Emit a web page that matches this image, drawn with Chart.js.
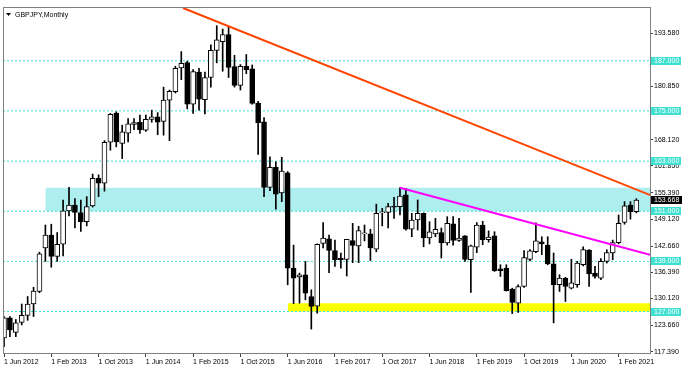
<!DOCTYPE html>
<html><head><meta charset="utf-8">
<script src="https://cdn.jsdelivr.net/npm/chart.js@4.4.1/dist/chart.umd.min.js"></script>
<style>html,body{margin:0;padding:0;background:#fff;overflow:hidden}</style>
</head><body>
<canvas id="c" width="691" height="368"></canvas>
<script>
// ---- data (monthly GBPJPY, Jun 2012 .. May 2021) ----
const open  = [120.7,125.5,122.0,124.4,126.1,128.8,131.8,142.2,145.3,140.2,143.1,151.1,152.5,150.7,148.5,152.3,158.9,157.7,167.5,174.5,167.2,169.7,171.8,172.3,170.4,173.0,173.6,172.5,177.6,179.6,185.3,186.6,176.6,184.3,177.7,183.0,189.5,191.6,193.3,185.6,181.1,185.7,185.1,176.9,172.4,156.7,161.5,155.4,160.2,137.4,135.3,135.8,130.6,128.3,143.3,144.4,141.6,139.8,139.5,144.0,142.7,145.6,145.6,141.9,150.6,150.7,152.1,152.1,154.9,146.7,148.9,150.5,144.6,145.6,145.9,143.4,148.0,144.0,145.1,139.4,142.4,147.7,144.2,145.1,137.2,137.4,132.4,129.0,133.0,139.5,141.3,143.7,142.9,138.4,133.4,135.0,132.6,133.4,138.2,141.7,136.2,135.0,139.0,141.0,143.5,148.3,152.5,150.9];
const high  = [125.8,125.8,125.1,128.8,130.6,132.8,141.2,147.7,147.9,145.9,153.7,156.7,154.0,153.7,154.5,159.9,159.7,167.9,174.4,174.8,171.6,173.2,173.2,174.0,174.0,175.2,174.6,180.7,180.0,185.7,189.2,186.9,184.9,185.2,184.3,190.8,195.4,194.6,195.2,188.3,186.1,188.5,186.0,177.3,173.4,164.0,162.8,163.9,160.5,142.9,136.2,139.0,132.2,143.2,148.3,145.3,144.1,141.0,144.3,148.1,147.4,147.7,146.7,152.7,151.7,152.9,154.3,156.6,156.5,150.5,153.7,150.6,148.5,149.3,147.0,149.7,149.7,149.3,145.2,142.9,148.3,148.6,146.3,146.1,138.2,138.2,132.6,133.4,141.6,141.8,148.2,144.9,144.9,141.0,135.8,135.2,139.5,139.0,142.5,141.8,137.8,139.7,141.8,144.1,150.1,153.3,153.3,154.0];
const low   = [118.6,121.0,121.0,123.8,124.9,125.8,131.5,139.0,137.6,139.0,140.3,149.9,147.0,146.2,147.5,152.0,154.5,155.8,165.6,166.4,163.6,167.6,170.5,169.6,170.1,172.3,169.3,169.2,167.9,179.3,182.5,175.5,174.4,175.2,174.3,180.7,186.5,184.5,183.0,180.7,180.0,183.9,176.6,164.6,154.5,155.9,151.5,153.3,133.4,128.9,129.0,129.8,122.8,126.6,142.2,136.3,137.8,137.4,135.5,138.7,138.7,143.9,139.2,141.3,147.5,147.0,149.3,150.1,146.5,144.9,146.5,142.5,143.2,144.9,139.8,142.9,142.9,143.8,139.0,131.6,141.1,143.0,143.6,136.6,135.4,131.9,126.5,126.8,132.8,139.1,141.1,140.6,138.2,124.3,131.8,129.4,132.4,132.8,137.9,133.0,135.0,134.6,138.6,139.4,143.2,147.9,149.1,150.6];
const close = [125.5,122.6,124.3,126.1,128.8,131.9,140.8,145.3,140.2,143.1,151.1,152.5,150.7,148.5,152.1,158.9,157.7,167.5,174.2,167.6,170.0,171.9,172.2,170.5,173.0,173.6,172.3,177.6,179.7,185.2,186.4,176.6,184.4,177.8,183.0,189.5,192.0,193.3,185.4,181.1,185.7,184.9,176.8,172.2,156.7,161.5,155.1,160.6,137.4,135.0,135.8,131.4,128.2,143.1,144.6,141.6,139.4,139.4,144.3,142.8,146.4,145.7,142.2,150.5,150.8,152.1,152.0,154.6,146.7,148.9,150.5,144.6,146.1,146.7,143.4,148.1,144.0,144.6,139.5,142.7,147.7,144.2,144.8,136.8,136.8,132.0,129.2,133.0,139.9,141.5,143.9,143.2,138.4,133.4,135.0,133.0,133.9,138.6,141.8,136.0,135.4,139.0,141.1,143.5,148.1,152.3,150.9,153.7];

const xTickPositions = [0,8,16,24,32,40,48,56,64,72,80,88,96,104];
const xTickLabels = ['1 Jun 2012','1 Feb 2013','1 Oct 2013','1 Jun 2014','1 Feb 2015','1 Oct 2015','1 Jun 2016','1 Feb 2017','1 Oct 2017','1 Jun 2018','1 Feb 2019','1 Oct 2019','1 Jun 2020','1 Feb 2021'];
const yTickValues = [117.39,123.66,130.12,136.39,142.66,149.12,155.39,161.85,168.12,174.39,180.85,187.12,193.58];
const levelValues = [187,175,163,151,139,127];
const currentPrice = 153.668;
const zoneStart = [7,48];
const zoneLow = [151,127];
const zoneHigh = [156.6,129];
const redLineX = [30.29,110];
const redLineY = [199.63,154.5];
const magentaLineX = [67,109.31];
const magentaLineY = [156.6,140.58];
const chartTitle = 'GBPJPY,Monthly';

// ---- view settings ----
const X_MIN = -0.17, X_MAX = 109.31, Y_MIN = 117.08, Y_MAX = 199.87;
const FONT = '"Liberation Sans", Arial, sans-serif';
const FS = 7;
const TURQ = '#40E0D0';

Chart.defaults.font.family = FONT;
Chart.defaults.font.size = FS;
Chart.defaults.color = '#000';

const idx = open.map((_, i) => i);
const bodies = idx.map(i => ({x: i, y: [open[i], close[i]]}));
const wicks = idx.map(i => ({x: i, y: [low[i], high[i]]}));
const bodyColors = idx.map(i => close[i] >= open[i] ? '#ffffff' : '#000000');

const datasets = [];
zoneStart.forEach((s, k) => {
  datasets.push({type:'line', data:[{x:s,y:zoneHigh[k]},{x:X_MAX,y:zoneHigh[k]}],
    borderWidth:0, pointRadius:0, fill:{value:zoneLow[k]},
    backgroundColor: k === 0 ? '#AFEEEE' : '#FFFF00', order:10});
});
levelValues.forEach(v => {
  datasets.push({type:'line', data:[{x:X_MIN,y:v},{x:X_MAX,y:v}], borderColor:TURQ,
    borderWidth:1, borderDash:[2,2], pointRadius:0, fill:false, order:9});
});
datasets.push({type:'bar', data:wicks, backgroundColor:'#000', barThickness:1, grouped:false, order:3});
datasets.push({type:'bar', data:bodies, backgroundColor:bodyColors, borderColor:'#000', borderWidth:1,
  borderSkipped:false, barThickness:5, minBarLength:1, grouped:false, order:2});
datasets.push({type:'line', data:redLineX.map((x,i)=>({x, y:redLineY[i]})), borderColor:'#FF4500',
  borderWidth:2, pointRadius:0, fill:false, clip:0, order:1});
datasets.push({type:'line', data:magentaLineX.map((x,i)=>({x, y:magentaLineY[i]})), borderColor:'#FF00FF',
  borderWidth:2, pointRadius:0, fill:false, clip:0, order:1});

const framePlugin = {
  id:'frame',
  beforeDraw(chart){
    const {ctx} = chart;
    ctx.save(); ctx.fillStyle='#fff'; ctx.fillRect(0,0,chart.width,chart.height); ctx.restore();
  },
  afterDraw(chart){
    const {ctx, chartArea:a} = chart;
    const y = chart.scales.y;
    ctx.save();
    ctx.strokeStyle='#808080'; ctx.lineWidth=1;
    ctx.strokeRect(Math.round(a.left)+0.5, Math.round(a.top)+0.5, Math.round(a.right-a.left), Math.round(a.bottom-a.top));
    // title
    ctx.fillStyle='#000';
    ctx.beginPath(); ctx.moveTo(6,13); ctx.lineTo(11,13); ctx.lineTo(8.5,16); ctx.closePath(); ctx.fill();
    ctx.font = FS + 'px ' + FONT; ctx.textBaseline='middle'; ctx.textAlign='left';
    ctx.fillStyle='#000';
    ctx.fillText(chartTitle, 15, 15);
    // level boxes
    const boxX = a.right + 1;
    levelValues.forEach(v => {
      const py = y.getPixelForValue(v);
      ctx.fillStyle = TURQ;
      ctx.fillRect(boxX, Math.round(py) - 4, 30, 8);
      ctx.fillStyle = '#fff';
      ctx.fillText(v.toFixed(3), boxX + 3, Math.round(py));
    });
    const pc = y.getPixelForValue(currentPrice);
    ctx.fillStyle = '#000';
    ctx.fillRect(boxX, Math.round(pc) - 4, 31, 8);
    ctx.fillStyle = '#fff';
    ctx.fillText(currentPrice.toFixed(3), boxX + 3, Math.round(pc));
    ctx.restore();
  }
};

new Chart(document.getElementById('c'), {
  type:'bar',
  data:{datasets},
  options:{
    responsive:false, animation:false, devicePixelRatio:1,
    layout:{padding:{left:3, top:7, right:0, bottom:0}},
    plugins:{legend:{display:false}, tooltip:{enabled:false}},
    scales:{
      x:{type:'linear', min:X_MIN, max:X_MAX, offset:false,
        afterBuildTicks(s){ s.ticks = xTickPositions.map(v => ({value:v})); },
        afterFit(s){ s.height = 15; },
        ticks:{autoSkip:false, maxRotation:0, minRotation:0, align:'start', padding:1,
          callback(v){ const k = xTickPositions.indexOf(v); return k >= 0 ? xTickLabels[k] : ''; }},
        grid:{drawOnChartArea:false, drawTicks:true, tickLength:4, color:'#404040', offset:false},
        border:{display:true, color:'#808080'}
      },
      y:{type:'linear', position:'right', min:Y_MIN, max:Y_MAX,
        afterBuildTicks(s){ s.ticks = yTickValues.map(v => ({value:v})); },
        afterFit(s){ s.width = 41; },
        ticks:{padding:1, callback(v){ return Number(v).toFixed(3); }},
        grid:{drawOnChartArea:false, drawTicks:true, tickLength:3, color:'#404040'},
        border:{display:true, color:'#808080'}
      }
    }
  },
  plugins:[framePlugin]
});
</script>
</body></html>
